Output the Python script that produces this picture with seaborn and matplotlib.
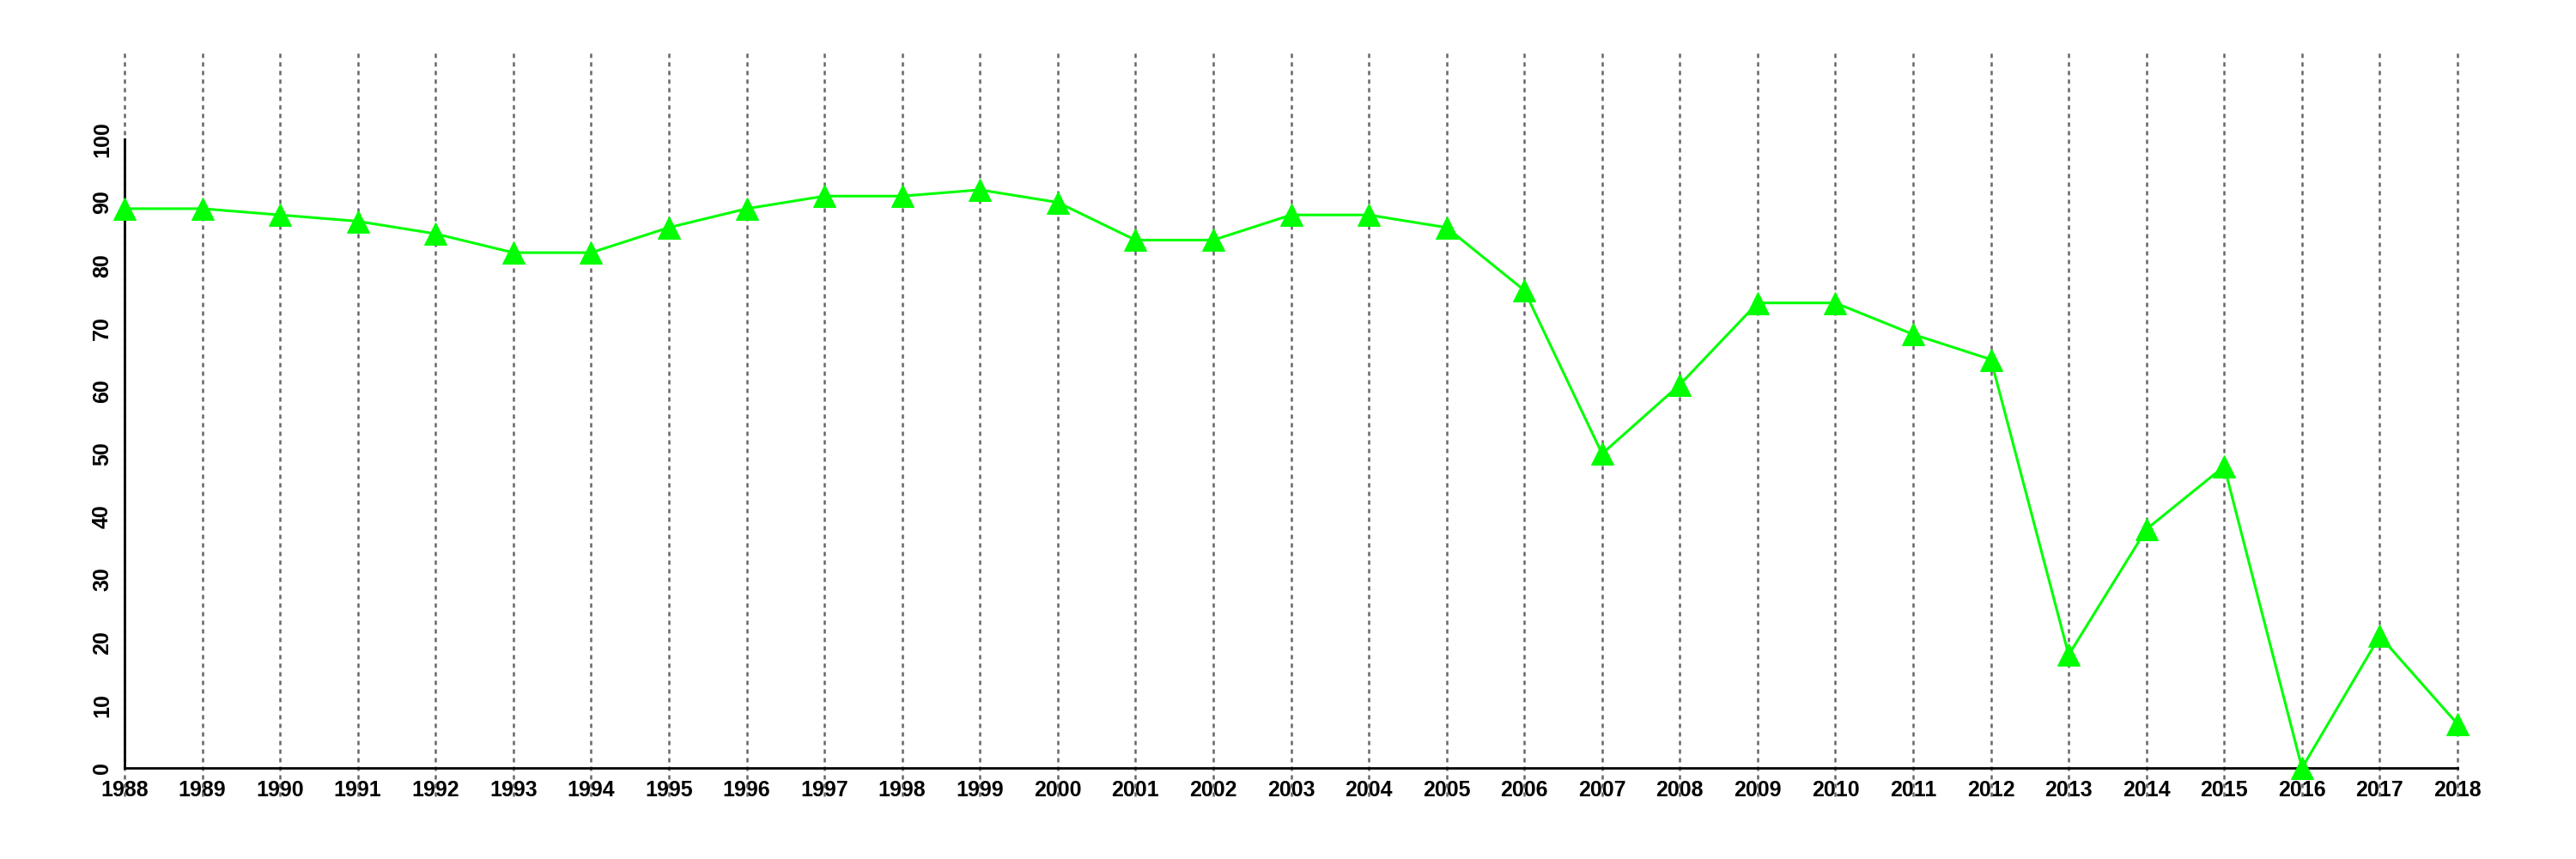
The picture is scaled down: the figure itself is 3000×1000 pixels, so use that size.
import numpy as np
import pandas as pd
import matplotlib
matplotlib.use("Agg")
import matplotlib.pyplot as plt
import seaborn as sns

years = list(range(1988, 2019))
values = [89, 89, 88, 87, 85, 82, 82, 86, 89, 91, 91, 92, 90, 84, 84, 88,
          88, 86, 76, 50, 61, 74, 74, 69, 65, 18, 38, 48, 0, 21, 7]
yticks = [0, 10, 20, 30, 40, 50, 60, 70, 80, 90, 100]

df = pd.DataFrame({"year": years, "value": values})

sns.set_style("white")
plt.rcParams["font.family"] = ["Liberation Sans", "DejaVu Sans"]

fig = plt.figure(figsize=(30, 10), dpi=100)
ax = fig.add_axes([145 / 3000, 0.073, (2862 - 145) / 3000, 0.867])

# spines first: set_position resets the ticks
for s in ["top", "right"]:
    ax.spines[s].set_visible(False)
ax.spines["left"].set_position(("data", 1988))
ax.spines["bottom"].set_position(("data", 0))
ax.spines["left"].set_bounds(0, 100)
for s in ["left", "bottom"]:
    ax.spines[s].set_linewidth(2)
    ax.spines[s].set_color("black")

# dotted vertical grid, running past the plot area
for yr in years:
    ax.axvline(yr, color="#666666", linestyle=(0, (2, 2)), linewidth=1.8,
               zorder=1, clip_on=False)

sns.lineplot(data=df, x="year", y="value", ax=ax, color="#00ff00", linewidth=2.2,
             marker="^", markersize=19, markeredgecolor="#00ff00", zorder=3,
             clip_on=False)

ax.set_xlim(1988, 2018)
ax.set_ylim(-4.5, 114)
ax.set_xticks(years)
ax.set_xticklabels([str(y) for y in years])
ax.set_yticks(yticks)
ax.set_yticklabels([str(v) for v in yticks])

ax.tick_params(axis="both", direction="out", length=7, width=1.5, color="black",
               labelcolor="black", labelsize=18, pad=3)
ax.tick_params(axis="y", labelrotation=90)
for lab in ax.get_yticklabels():
    lab.set_va("center")
for lab in ax.get_xticklabels() + ax.get_yticklabels():
    lab.set_fontweight("bold")

ax.set_xlabel("")
ax.set_ylabel("")

fig.savefig("out.png", dpi=100)
